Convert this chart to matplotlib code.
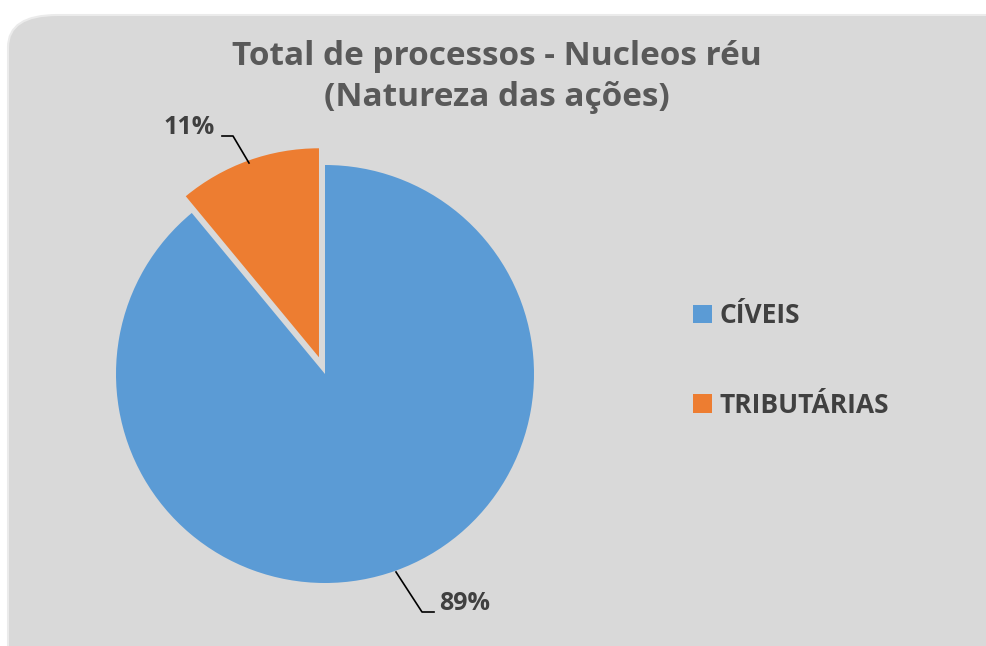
import matplotlib.pyplot as plt
from matplotlib.patches import FancyBboxPatch, Patch
import numpy as np

categorias = ['CÍVEIS', 'TRIBUTÁRIAS']
valores = [89, 11]
cores = ['#5B9BD5', '#ED7D31']
titulo = 'Total de processos - Nucleos réu\n(Natureza das ações)'

W, H = 987, 646
fig = plt.figure(figsize=(W / 100, H / 100), dpi=100)
fig.patch.set_facecolor('white')

# fundo cinza com canto arredondado
bg = FancyBboxPatch((8 / W, -0.1), 1.2, 1 - 15 / H + 0.1,
                    boxstyle='round,pad=0,rounding_size=0.05',
                    transform=fig.transFigure, facecolor='#D9D9D9',
                    edgecolor='#EBEBEB', linewidth=1.5, zorder=-5)
fig.patches.append(bg)

# eixo da pizza: centro (325, 374) px, raio 209 px
cx, cy, r = 325, 374, 209
half = 250
ax = fig.add_axes([(cx - half) / W, (H - cy - half) / H, 2 * half / W, 2 * half / H])
ax.set_zorder(1)
ax.patch.set_visible(False)

wedges, _ = ax.pie(valores, colors=cores, startangle=90, counterclock=False,
                   explode=[0, 0.085], radius=1, center=(0, 0),
                   wedgeprops=dict(linewidth=0))
ax.set_xlim(-half / r, half / r)
ax.set_ylim(-half / r, half / r)
ax.set_aspect('equal')
ax.axis('off')

fig.text(497 / W, 1 - 77 / H, titulo, ha='center', va='center',
         fontsize=24, fontweight='bold', color='#595959', family='Open Sans',
         linespacing=1.35)

# rótulos de dados com linhas de chamada
def px(x, y):
    return (x / W, 1 - y / H)

fig.add_artist(plt.Line2D([222 / W, 233 / W, 249 / W],
                          [1 - 136 / H, 1 - 136 / H, 1 - 163 / H],
                          color='black', lw=1.2))
fig.text(*px(189, 128), f'{valores[1]}%', ha='center', va='center',
         fontsize=18, fontweight='bold', color='#404040', family='Open Sans')

fig.add_artist(plt.Line2D([396 / W, 422 / W, 434 / W],
                          [1 - 572 / H, 1 - 612 / H, 1 - 612 / H],
                          color='black', lw=1.2))
fig.text(*px(465, 603), f'{valores[0]}%', ha='center', va='center',
         fontsize=18, fontweight='bold', color='#404040', family='Open Sans')

handles = [Patch(facecolor=c, edgecolor='none') for c in cores]
leg = fig.legend(handles, categorias, loc='upper left',
                 bbox_to_anchor=(672 / W, 1 - 281 / H), frameon=False,
                 handlelength=0.7, handleheight=0.7, handletextpad=0.3,
                 labelspacing=2.37, borderpad=0.3,
                 prop=dict(family='Open Sans', weight='bold', size=19))
for t in leg.get_texts():
    t.set_color('#404040')

fig.savefig('out.png', dpi=100, facecolor='white')
